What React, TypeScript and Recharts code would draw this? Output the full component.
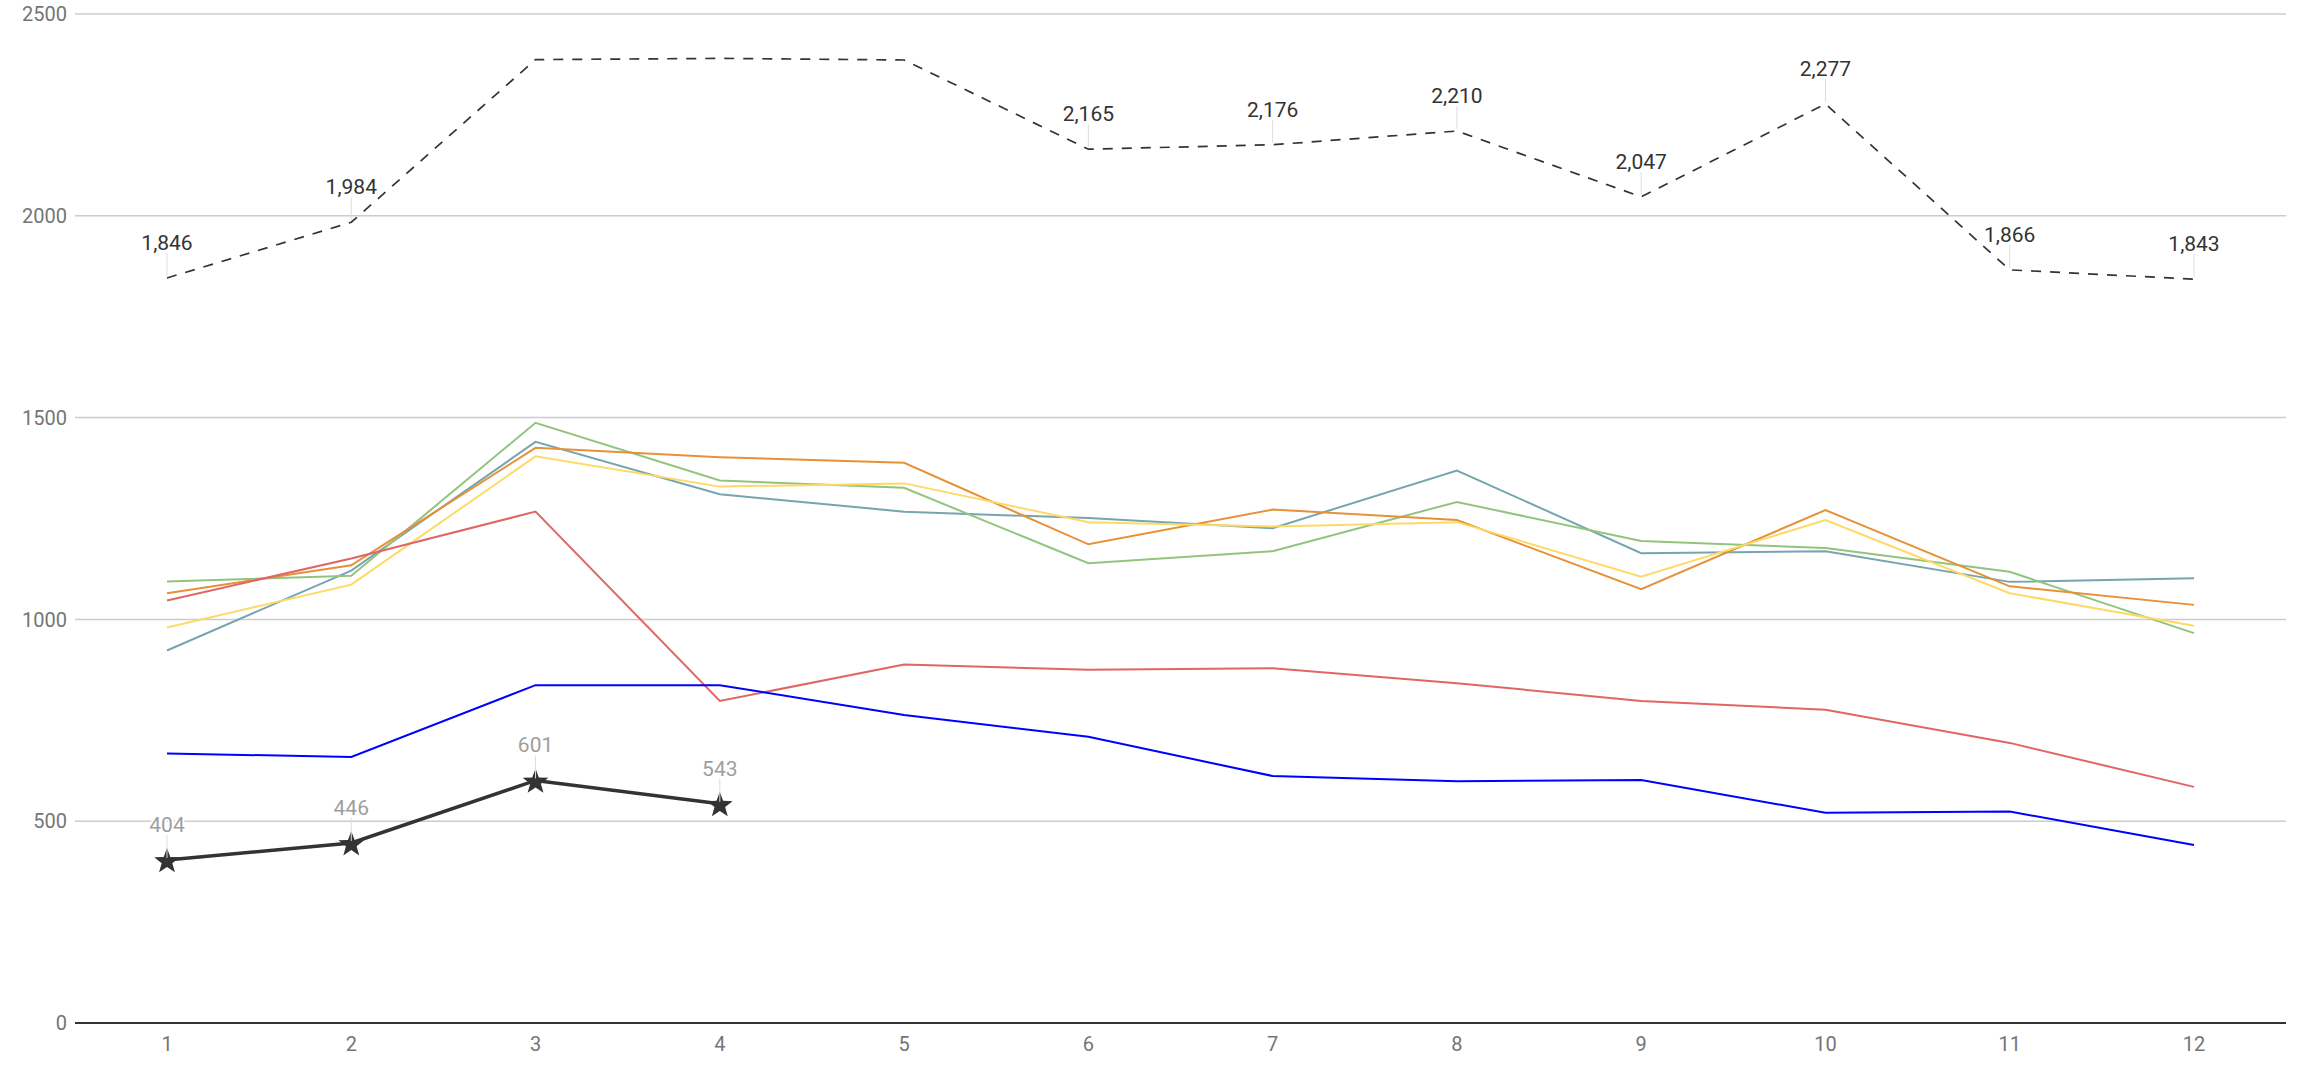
import React from 'react'
import { LineChart, Line, XAxis, YAxis, CartesianGrid, LabelList } from 'recharts'

const months = [1, 2, 3, 4, 5, 6, 7, 8, 9, 10, 11, 12]

const total = [1846, 1984, 2387, 2390, 2386, 2165, 2176, 2210, 2047, 2277, 1866, 1843]
// months whose total gets a value label (the reference skips the three top ones)
const totalLabelled = [1, 2, 6, 7, 8, 9, 10, 11, 12]

const teal = [923, 1121, 1440, 1310, 1267, 1251, 1226, 1369, 1164, 1169, 1093, 1102]
const green = [1094, 1108, 1487, 1344, 1326, 1139, 1169, 1291, 1194, 1177, 1118, 966]
const orange = [1065, 1134, 1425, 1402, 1388, 1186, 1272, 1246, 1075, 1271, 1082, 1036]
const yellow = [980, 1086, 1404, 1329, 1337, 1241, 1230, 1241, 1106, 1246, 1065, 984]
const red = [1047, 1151, 1267, 798, 888, 875, 879, 842, 798, 776, 694, 585]
const blue = [668, 659, 837, 837, 763, 709, 612, 599, 602, 521, 524, 441]
const current = [404, 446, 601, 543]

const yTicks = [0, 500, 1000, 1500, 2000, 2500]

const data = months.map((m, i) => ({
  month: m,
  total: total[i],
  teal: teal[i],
  green: green[i],
  orange: orange[i],
  yellow: yellow[i],
  red: red[i],
  blue: blue[i],
  current: i < current.length ? current[i] : null,
}))

const FONT = 'Roboto, "Noto Sans", sans-serif'

function StarDot(props: any) {
  const { cx, cy } = props
  if (cx == null || cy == null) return null
  const outer = 13.5
  const inner = 5.6
  const pts: string[] = []
  for (let k = 0; k < 10; k++) {
    const r = k % 2 === 0 ? outer : inner
    const a = -Math.PI / 2 + (k * Math.PI) / 5
    pts.push(`${cx + r * Math.cos(a)},${cy + 1.5 + r * Math.sin(a)}`)
  }
  return <polygon points={pts.join(' ')} fill="#333333" />
}

function makeLabel(color: string, withComma: boolean, only?: number[]) {
  return (props: any) => {
    const { x, y, value, index } = props
    if (value == null || x == null || y == null) return null
    if (only && !only.includes(months[index])) return null
    const text = withComma ? Number(value).toLocaleString('en-US') : String(value)
    return (
      <g>
        <line x1={x} x2={x} y1={y - 25} y2={y - 2} stroke="#dddddd" strokeWidth={1} />
        <text
          x={x}
          y={y - 28}
          textAnchor="middle"
          fill={color}
          fontSize={21}
          fontFamily={FONT}
          stroke="#ffffff"
          strokeWidth={4}
          paintOrder="stroke"
        >
          {text}
        </text>
      </g>
    )
  }
}

export default function App() {
  return (
    <div style={{ position: 'absolute', left: 0, top: 0, background: '#fff' }}>
      <LineChart
        width={2304}
        height={1066}
        data={data}
        margin={{ top: 14, right: 18, bottom: 13, left: 0 }}
      >
        <CartesianGrid vertical={false} stroke="#cccccc" strokeWidth={1.5} />
        <XAxis
          dataKey="month"
          height={30}
          padding={{ left: 92, right: 92 }}
          axisLine={{ stroke: '#333333', strokeWidth: 2 }}
          tickLine={false}
          tick={{ fill: '#757575', fontSize: 20, fontFamily: FONT }}
          tickMargin={8}
        />
        <YAxis
          width={75}
          domain={[0, 2500]}
          ticks={yTicks}
          axisLine={false}
          tickLine={false}
          tick={{ fill: '#757575', fontSize: 20, fontFamily: FONT }}
        />
        <Line dataKey="teal" stroke="#76a5af" strokeWidth={2} dot={false} isAnimationActive={false} />
        <Line dataKey="green" stroke="#93c47d" strokeWidth={2} dot={false} isAnimationActive={false} />
        <Line dataKey="orange" stroke="#e69138" strokeWidth={2} dot={false} isAnimationActive={false} />
        <Line dataKey="yellow" stroke="#ffd966" strokeWidth={2} dot={false} isAnimationActive={false} />
        <Line dataKey="red" stroke="#e06666" strokeWidth={2} dot={false} isAnimationActive={false} />
        <Line dataKey="blue" stroke="#0000ff" strokeWidth={2} dot={false} isAnimationActive={false} />
        <Line
          dataKey="total"
          stroke="#333333"
          strokeWidth={1.7}
          strokeDasharray="10 9"
          dot={false}
          isAnimationActive={false}
        >
          <LabelList dataKey="total" content={makeLabel('#333333', true, totalLabelled)} />
        </Line>
        <Line
          dataKey="current"
          stroke="#333333"
          strokeWidth={3.5}
          dot={<StarDot />}
          activeDot={false}
          connectNulls={false}
          isAnimationActive={false}
        >
          <LabelList dataKey="current" content={makeLabel('#9e9e9e', false)} />
        </Line>
      </LineChart>
    </div>
  )
}
